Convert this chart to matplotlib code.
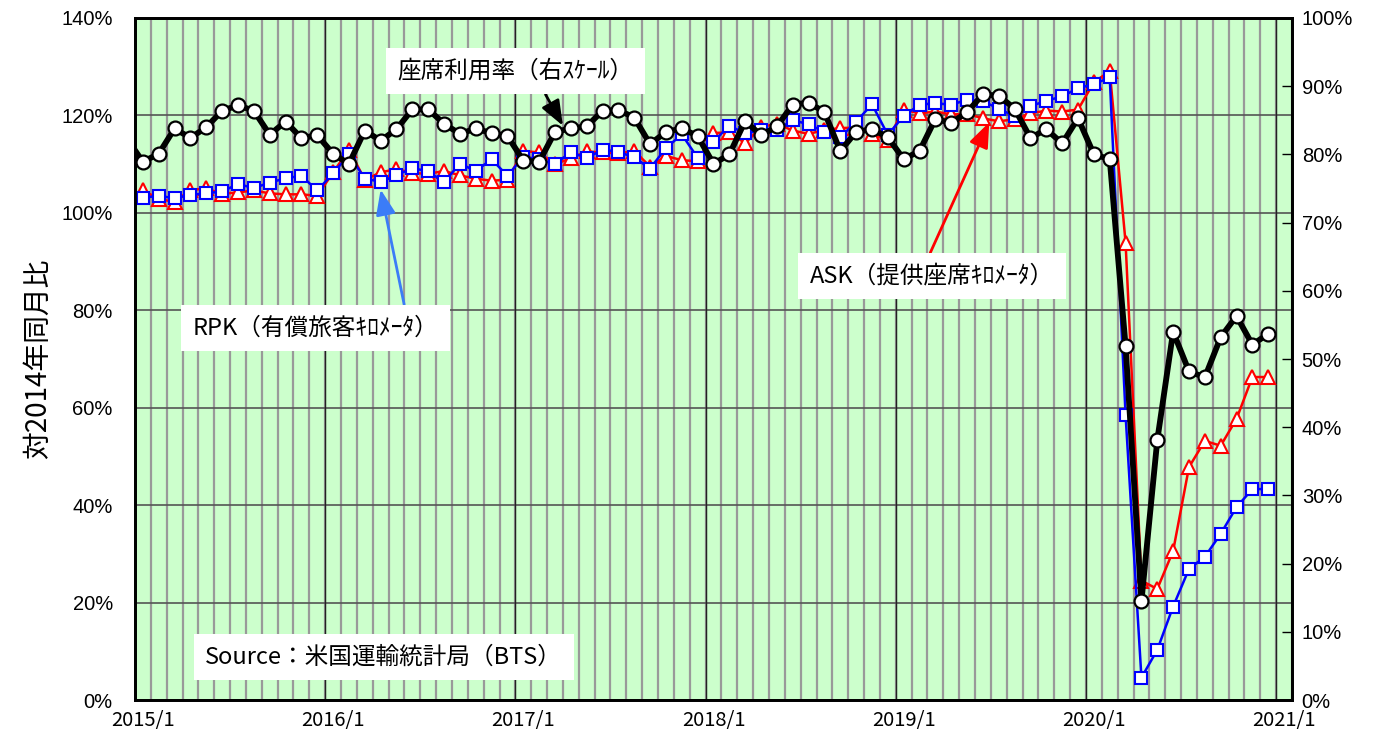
import matplotlib
matplotlib.use('Agg')
import matplotlib.pyplot as plt
import numpy as np

plt.rcParams['font.family'] = ['Noto Sans CJK JP', 'DejaVu Sans']

# 月 (2015/1 - 2020/12)
months = [f'{y}/{m}' for y in range(2015, 2021) for m in range(1, 13)]
year_labels = ['2015/1', '2016/1', '2017/1', '2018/1', '2019/1', '2020/1', '2021/1']

# ASK (提供座席キロメータ) 対2014年同月比 [%]
ask = [104.7, 102.8, 102.3, 104.7, 105.0, 103.9, 104.2, 104.6, 104.0, 103.8, 103.8, 103.5,
       108.3, 113.0, 106.8, 108.3, 109.0, 108.2, 108.0, 108.6, 107.7, 107.0, 106.6, 106.8,
       112.7, 112.4, 110.0, 111.2, 112.6, 112.4, 112.2, 112.7, 109.5, 111.7, 110.8, 110.6,
       116.4, 116.5, 114.3, 117.6, 118.3, 116.9, 116.2, 117.0, 117.4, 117.5, 116.1, 115.0,
       121.2, 120.4, 120.8, 120.2, 120.3, 119.4, 118.8, 119.2, 120.4, 121.0, 120.8, 121.2,
       126.8, 129.1, 93.9, 24.5, 22.8, 30.6, 47.8, 53.2, 52.2, 57.7, 66.3, 66.3]

# RPK (有償旅客キロメータ) 対2014年同月比 [%]
rpk = [103.1, 103.5, 103.0, 103.7, 104.0, 104.4, 105.9, 105.1, 106.2, 107.1, 107.6, 104.6,
       108.1, 112.0, 107.0, 106.4, 107.7, 109.2, 108.5, 106.3, 110.1, 108.6, 111.0, 107.6,
       111.5, 111.0, 110.0, 112.5, 111.2, 113.0, 112.5, 111.4, 109.1, 113.3, 116.1, 111.3,
       114.6, 117.9, 116.3, 117.0, 117.1, 119.0, 118.2, 116.6, 115.5, 118.7, 122.3, 116.0,
       119.9, 122.2, 122.5, 122.2, 123.2, 122.9, 121.4, 119.8, 121.9, 123.0, 123.9, 125.6,
       126.4, 127.8, 58.5, 4.6, 10.3, 19.2, 26.9, 29.4, 34.1, 39.6, 43.3, 43.3]

# 座席利用率 [%] (右スケール), 先頭は2014/12 (左端で切れて見える分)
lf_2014_12 = 82.3
lf = [78.9, 80.1, 83.8, 82.4, 84.0, 86.4, 87.2, 86.4, 82.9, 84.8, 82.4, 82.8,
      80.1, 78.6, 83.5, 82.0, 83.7, 86.6, 86.6, 84.5, 83.0, 83.8, 83.1, 82.7,
      79.1, 78.9, 83.3, 83.8, 84.1, 86.4, 86.5, 85.4, 81.5, 83.3, 83.8, 82.7,
      78.6, 80.0, 84.9, 82.8, 84.1, 87.3, 87.6, 86.2, 80.5, 83.3, 83.7, 82.5,
      79.3, 80.5, 85.2, 84.6, 86.2, 88.8, 88.6, 86.7, 82.4, 83.7, 81.6, 85.3,
      80.0, 79.3, 51.9, 14.5, 38.1, 54.0, 48.2, 47.3, 53.2, 56.3, 52.1, 53.7]

x = np.arange(len(months)) + 0.5
n_cat = len(months) + 1  # 2021/1 までの目盛り

fig = plt.figure(figsize=(13.83, 7.40), dpi=100)
ax = fig.add_axes([0.0976, 0.054, 0.8366, 0.9217])
ax.set_facecolor('#ccffcc')

# グリッド
ax.set_xticks(np.arange(0, n_cat + 1), minor=True)
ax.grid(which='minor', axis='x', color='#999999', linewidth=1.6)
ax.grid(which='major', axis='y', color='#555555', linewidth=1.2)
for k in range(12, n_cat, 12):
    ax.axvline(k, color='#222222', linewidth=1.0, zorder=0.9)
ax.set_axisbelow(True)

ax.plot(x, ask, color='red', linewidth=1.8, marker='^', markersize=10.5,
        markerfacecolor='white', markeredgecolor='red', markeredgewidth=1.5, zorder=3)
ax.plot(x, rpk, color='#0000ff', linewidth=1.8, marker='s', markersize=8,
        markerfacecolor='white', markeredgecolor='#0000ff', markeredgewidth=1.5, zorder=4)

ax.set_xlim(0, n_cat)
ax.set_ylim(0, 140)
ax.set_yticks(np.arange(0, 141, 20))
ax.set_yticklabels([f'{v}%' for v in range(0, 141, 20)], fontsize=14.5,
                   family=['Liberation Sans', 'DejaVu Sans'])
ax.set_xticks(np.arange(0, n_cat, 12) + 0.5)
ax.set_xticklabels(year_labels, fontsize=14.5)
ax.tick_params(axis='x', which='both', length=0, pad=7)
ax.tick_params(axis='y', length=0, pad=16)
ax.set_ylabel('対2014年同月比', fontsize=20, labelpad=6)

ax2 = ax.twinx()
ax2.plot(np.concatenate([[-0.5], x]), [lf_2014_12] + lf, color='black', linewidth=4.2,
         marker='o', markersize=10, markerfacecolor='white', markeredgecolor='black',
         markeredgewidth=1.6, zorder=5)
ax2.set_xlim(0, n_cat)
ax2.set_ylim(0, 100)
ax2.set_yticks(np.arange(0, 101, 10))
ax2.set_yticklabels([f'{v}%' for v in range(0, 101, 10)], fontsize=14.5,
                    family=['Liberation Sans', 'DejaVu Sans'])
ax2.tick_params(axis='y', direction='in', length=7, width=1, pad=7)

for a in (ax, ax2):
    for s in a.spines.values():
        s.set_linewidth(2)
        s.set_color('black')

box = dict(boxstyle='square,pad=0.5', facecolor='white', edgecolor='none')
fs = 17

ax2.annotate('座席利用率（右ｽｹｰﾙ）', xy=(27.0, 84.2), xytext=(24.0, 92.2),
             fontsize=fs, ha='center', va='center', bbox=box, zorder=10,
             arrowprops=dict(arrowstyle='-|>,head_length=0.9,head_width=0.35',
                             color='black', linewidth=2, relpos=(0.6, 0.0),
                             shrinkA=0, shrinkB=0))
ax.annotate('RPK（有償旅客ｷﾛﾒｰﾀ）', xy=(15.5, 104.8), xytext=(11.4, 76.4),
            fontsize=fs, ha='center', va='center', bbox=box, zorder=10,
            arrowprops=dict(arrowstyle='-|>,head_length=0.9,head_width=0.35',
                            color='#3b7cf7', linewidth=2, relpos=(0.87, 1.0),
                            shrinkA=0, shrinkB=0))
ax.annotate('ASK（提供座席ｷﾛﾒｰﾀ）', xy=(53.9, 118.6), xytext=(50.3, 87.0),
            fontsize=fs, ha='center', va='center', bbox=box, zorder=10,
            arrowprops=dict(arrowstyle='-|>,head_length=0.9,head_width=0.35',
                            color='red', linewidth=2, relpos=(0.47, 1.0),
                            shrinkA=0, shrinkB=0))
ax.text(15.7, 8.8, 'Source：米国運輸統計局（BTS）', fontsize=fs, ha='center',
        va='center', bbox=box, zorder=10)

fig.savefig('out.png', dpi=100)
